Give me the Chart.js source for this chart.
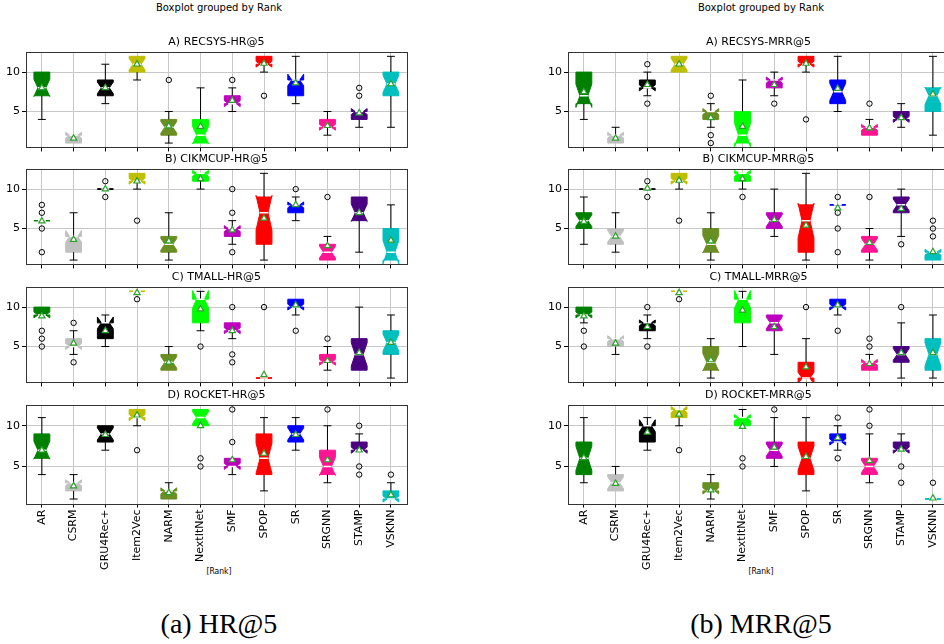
<!DOCTYPE html>
<html>
<head>
<meta charset="utf-8">
<script src="https://cdn.jsdelivr.net/npm/chart.js@4"></script>
<style>
  body { margin: 0; background: #fff; overflow: hidden; width: 944px; height: 644px; position: relative; font-family: 'DejaVu Sans', sans-serif; }
  canvas { position: absolute; }
  .txt { position: absolute; text-align: center; color: #000; white-space: nowrap; }
  .head { font-size: 10px; line-height: 12px; top: 2px; width: 300px; }
  .xlab { font-family: 'DejaVu Sans Condensed', 'DejaVu Sans', sans-serif; font-size: 8.5px; line-height: 12px; top: 565px; width: 100px; }
  .cap { font-family: 'Liberation Serif', serif; font-size: 28px; line-height: 32px; top: 608px; width: 300px; }
</style>
</head>
<body>
<div class="txt head" style="left:69px">Boxplot grouped by Rank</div>
<div class="txt head" style="left:611px">Boxplot grouped by Rank</div>
<div class="txt xlab" style="left:169px">[Rank]</div>
<div class="txt xlab" style="left:711px">[Rank]</div>
<div class="txt cap" style="left:69px">(a) HR@5</div>
<div class="txt cap" style="left:611px">(b) MRR@5</div>

<script>
const categories = ['AR', 'CSRM', 'GRU4Rec+', 'Item2Vec', 'NARM', 'NextItNet', 'SMF', 'SPOP', 'SR', 'SRGNN', 'STAMP', 'VSKNN'];
const boxColors = ['#008000', '#c0c0c0', '#000000', '#bfbf00', '#6b8e23', '#00ff00', '#bf00bf', '#ff0000', '#0000ff', '#ff1493', '#4b0082', '#00bfbf'];
const yTicks = [5, 10];

// each row: whisker low, q1, notch low, median, notch high, q3, whisker high
const hrRecsys = [
  [4, 7, 6.9, 8, 9.1, 10, 10],
  [1, 1, 1.63, 2, 2.37, 2, 2],
  [6, 7, 7.26, 8, 8.74, 9, 11],
  [9, 10, 10.26, 11, 11.74, 12, 12],
  [1, 2, 2.26, 3, 3.74, 4, 5],
  [1, 1, 0.9, 2, 3.1, 4, 8],
  [5, 6, 5.63, 6, 6.37, 7, 8],
  [10, 11, 10.63, 11, 11.37, 12, 12],
  [6, 7, 8.26, 9, 9.74, 9, 12],
  [2, 3, 2.63, 3, 3.37, 4, 5],
  [3, 4, 4.63, 5, 5.37, 5, 5],
  [3, 7, 7.4, 8.5, 9.6, 10, 12]
];
const hrRecsysMean = [8.0, 1.6, 8.0, 11.0, 3.15, 3.1, 6.4, 11.1, 8.6, 3.2, 4.8, 8.5];
const hrRecsysOut = [[], [], [], [], [9], [], [9], [7], [], [], [7, 8], []];

const hrCikm = [
  [6, 6, 6, 6, 6, 6, 6],
  [1, 2, 3.26, 4, 4.74, 4, 7],
  [10, 10, 10, 10, 10, 10, 10],
  [10, 11, 10.63, 11, 11.37, 12, 12],
  [1, 2, 2.26, 3, 3.74, 4, 7],
  [10, 11, 11.63, 12, 12.37, 12, 12],
  [3, 4, 4.63, 5, 5.37, 5, 6],
  [1, 3, 4.8, 7, 9.2, 9, 12],
  [6, 7, 7.63, 8, 8.37, 8, 9],
  [1, 1, 1.26, 2, 2.74, 3, 4],
  [2, 6, 5.9, 7, 8.1, 9, 9],
  [1, 1, 0.52, 2, 3.48, 5, 8]
];
const hrCikmMean = [5.95, 3.6, 10.0, 11.0, 3.4, 11.3, 4.8, 6.3, 8.0, 2.8, 7.0, 3.5];
const hrCikmOut = [[2, 5, 7, 8], [], [9, 11], [6], [], [], [2, 7, 10], [], [10], [9], [], []];

const hrTmall = [
  [9, 9, 8.63, 9, 9.37, 10, 10],
  [4, 5, 4.63, 5, 5.37, 6, 7],
  [5, 6, 7.26, 8, 8.74, 8, 9],
  [12, 12, 12, 12, 12, 12, 12],
  [2, 2, 2.26, 3, 3.74, 4, 5],
  [7, 8, 9.9, 11, 12.1, 11, 12],
  [6, 7, 6.63, 7, 7.37, 8, 8],
  [1, 1, 1, 1, 1, 1, 1],
  [9, 10, 9.63, 10, 10.37, 11, 11],
  [2, 3, 2.63, 3, 3.37, 4, 5],
  [2, 2, 2.52, 4, 5.48, 6, 10],
  [1, 4, 4.4, 5.5, 6.6, 7, 9]
];
const hrTmallMean = [8.85, 5.4, 7.0, 11.8, 3.0, 9.75, 7.0, 1.4, 10.25, 3.2, 4.2, 5.5];
const hrTmallOut = [[5, 6, 7], [3, 8], [], [11], [], [5], [3, 4, 10], [10], [7], [6], [], []];

const hrRocket = [
  [4, 6, 5.9, 7, 8.1, 9, 11],
  [1, 2, 2.63, 3, 3.37, 3, 4],
  [7, 8, 8.26, 9, 9.74, 10, 10],
  [10, 11, 10.63, 11, 11.37, 12, 12],
  [1, 1, 1.63, 2, 2.37, 2, 3],
  [10, 10, 10.26, 11, 11.74, 12, 12],
  [4, 5, 4.63, 5, 5.37, 6, 6],
  [2, 4, 4.15, 6, 7.85, 9, 11],
  [7, 8, 8.26, 9, 9.74, 10, 11],
  [3, 4, 3.9, 5, 6.1, 7, 10],
  [7, 7, 6.63, 7, 7.37, 8, 9],
  [1, 1, 0.63, 1, 1.37, 2, 3]
];
const hrRocketMean = [7.0, 2.6, 8.9, 11.3, 1.75, 10.0, 5.8, 6.6, 8.9, 5.8, 7.0, 1.5];
const hrRocketOut = [[], [], [], [7], [], [5, 6], [8, 12], [], [], [12], [4, 5, 10], [4]];

const mrrRecsys = [
  [4, 6, 5.52, 7, 8.48, 10, 10],
  [1, 1, 1.63, 2, 2.37, 2, 3],
  [7, 8, 7.63, 8, 8.37, 9, 10],
  [10, 10, 10.26, 11, 11.74, 12, 12],
  [3, 4, 4.63, 5, 5.37, 5, 6],
  [1, 1, 0.52, 2, 3.48, 5, 9],
  [7, 8, 8.63, 9, 9.37, 9, 10],
  [10, 11, 10.63, 11, 11.37, 12, 12],
  [5, 6, 6.4, 7.5, 8.6, 9, 12],
  [2, 2, 2.63, 3, 3.37, 3, 4],
  [3, 4, 3.63, 4, 4.37, 5, 6],
  [2, 5, 5.9, 7, 8.1, 8, 12]
];
const mrrRecsysMean = [7.5, 1.6, 8.4, 11.0, 4.2, 3.1, 8.4, 11.1, 7.9, 2.9, 4.2, 7.2];
const mrrRecsysOut = [[], [], [6, 11], [], [1, 2, 7], [], [6], [4], [], [6], [], []];

const mrrCikm = [
  [3, 5, 5.26, 6, 6.74, 7, 9],
  [2, 3, 3.26, 4, 4.74, 5, 7],
  [10, 10, 10, 10, 10, 10, 10],
  [10, 11, 10.63, 11, 11.37, 12, 12],
  [1, 2, 1.9, 3, 4.1, 5, 7],
  [10, 11, 11.63, 12, 12.37, 12, 12],
  [4, 5, 5.26, 6, 6.74, 7, 10],
  [1, 2, 3.8, 6, 8.2, 8, 12],
  [8, 8, 8, 8, 8, 8, 8],
  [1, 2, 2.26, 3, 3.74, 4, 5],
  [4, 7, 7.26, 8, 8.74, 9, 10],
  [1, 1, 1.63, 2, 2.37, 2, 2]
];
const mrrCikmMean = [5.9, 4.0, 10.1, 11.1, 3.4, 11.3, 6.1, 5.4, 7.6, 3.2, 7.5, 2.05];
const mrrCikmOut = [[], [], [9, 11], [6], [], [9], [], [], [2, 5, 7, 9], [9], [3], [4, 5, 6]];

const mrrTmall = [
  [8, 9, 8.63, 9, 9.37, 10, 10],
  [4, 5, 5.63, 6, 6.37, 6, 6],
  [6, 7, 7.63, 8, 8.37, 8, 9],
  [12, 12, 12, 12, 12, 12, 12],
  [1, 2, 1.9, 3, 4.1, 5, 6],
  [5, 8, 9.9, 11, 12.1, 11, 12],
  [4, 7, 7.26, 8, 8.74, 9, 9],
  [1, 1, 0.26, 1, 1.74, 3, 6],
  [9, 10, 9.63, 10, 10.37, 11, 11],
  [2, 2, 2.63, 3, 3.37, 3, 4],
  [1, 3, 3.26, 4, 4.74, 5, 8],
  [1, 2, 2.52, 4, 5.48, 6, 9]
];
const mrrTmallMean = [8.85, 5.4, 7.5, 11.8, 3.3, 9.6, 7.5, 2.4, 10.25, 2.8, 4.2, 4.2];
const mrrTmallOut = [[5, 7], [], [5, 10], [11], [], [], [], [10], [7], [5, 6], [10], []];

const mrrRocket = [
  [3, 4, 4.52, 6, 7.48, 8, 11],
  [2, 2, 2.26, 3, 3.74, 4, 5],
  [7, 8, 9.26, 10, 10.74, 10, 11],
  [10, 11, 11.63, 12, 12.37, 12, 12],
  [1, 2, 1.63, 2, 2.37, 3, 4],
  [10, 10, 10.63, 11, 11.37, 11, 12],
  [5, 6, 6.26, 7, 7.74, 8, 11],
  [2, 4, 4.52, 6, 7.48, 8, 11],
  [7, 8, 7.63, 8, 8.37, 9, 10],
  [3, 4, 4.26, 5, 5.74, 6, 9],
  [7, 7, 6.63, 7, 7.37, 8, 9],
  [1, 1, 1, 1, 1, 1, 1]
];
const mrrRocketMean = [6.05, 2.9, 9.2, 11.4, 2.1, 9.9, 7.35, 6.2, 8.5, 5.7, 7.1, 1.1];
const mrrRocketOut = [[], [], [], [7], [], [5, 6], [12], [], [6, 11], [10, 12], [3, 5], [3]];

Chart.defaults.font.family = "'DejaVu Sans', sans-serif";
Chart.defaults.color = '#000';

const panels = [
  { title: 'A) RECSYS-HR@5', stats: hrRecsys, means: hrRecsysMean, out: hrRecsysOut, left: 0, top: 32, last: false },
  { title: 'B) CIKMCUP-HR@5', stats: hrCikm, means: hrCikmMean, out: hrCikmOut, left: 0, top: 149, last: false },
  { title: 'C) TMALL-HR@5', stats: hrTmall, means: hrTmallMean, out: hrTmallOut, left: 0, top: 267, last: false },
  { title: 'D) ROCKET-HR@5', stats: hrRocket, means: hrRocketMean, out: hrRocketOut, left: 0, top: 385, last: true },
  { title: 'A) RECSYS-MRR@5', stats: mrrRecsys, means: mrrRecsysMean, out: mrrRecsysOut, left: 542, top: 32, last: false },
  { title: 'B) CIKMCUP-MRR@5', stats: mrrCikm, means: mrrCikmMean, out: mrrCikmOut, left: 542, top: 149, last: false },
  { title: 'C) TMALL-MRR@5', stats: mrrTmall, means: mrrTmallMean, out: mrrTmallOut, left: 542, top: 267, last: false },
  { title: 'D) ROCKET-MRR@5', stats: mrrRocket, means: mrrRocketMean, out: mrrRocketOut, left: 542, top: 385, last: true }
];

// notched boxes, whiskers, caps and medians drawn with the chart's scales
function boxPlugin(stats) {
  return {
    id: 'boxes',
    beforeDatasetsDraw(chart) {
      const { ctx, chartArea: a, scales: { x, y } } = chart;
      const unit = x.getPixelForValue(1) - x.getPixelForValue(0);
      const bw = unit * 0.25, nw = unit * 0.125;
      const py = v => y.getPixelForValue(v);
      ctx.save();
      ctx.beginPath();
      ctx.rect(a.left, a.top, a.width, a.height);
      ctx.clip();
      stats.forEach((s, i) => {
        const [lo, q1, cilo, med, cihi, q3, hi] = s;
        const cx = x.getPixelForValue(i);
        const pts = [[-bw, q1], [bw, q1], [bw, cilo], [nw, med], [bw, cihi], [bw, q3],
                     [-bw, q3], [-bw, cihi], [-nw, med], [-bw, cilo]];
        ctx.beginPath();
        pts.forEach(([dx, v], k) => k ? ctx.lineTo(cx + dx, py(v)) : ctx.moveTo(cx + dx, py(v)));
        ctx.closePath();
        ctx.fillStyle = boxColors[i];
        ctx.strokeStyle = boxColors[i];
        ctx.lineWidth = 1;
        ctx.fill();
        ctx.stroke();

        ctx.strokeStyle = '#000';
        ctx.beginPath();
        if (lo < q1) {
          ctx.moveTo(cx, py(q1)); ctx.lineTo(cx, py(lo));
          ctx.moveTo(cx - nw, py(lo)); ctx.lineTo(cx + nw, py(lo));
        }
        if (hi > q3) {
          ctx.moveTo(cx, py(q3)); ctx.lineTo(cx, py(hi));
          ctx.moveTo(cx - nw, py(hi)); ctx.lineTo(cx + nw, py(hi));
        }
        ctx.stroke();

        ctx.strokeStyle = '#fff';
        ctx.lineWidth = 1.5;
        ctx.beginPath();
        ctx.moveTo(cx - nw, py(med)); ctx.lineTo(cx + nw, py(med));
        ctx.stroke();
      });
      ctx.restore();
    },
    afterDraw(chart) {
      const { ctx, chartArea: a } = chart;
      ctx.save();
      ctx.strokeStyle = '#333';
      ctx.lineWidth = 1;
      ctx.strokeRect(Math.round(a.left) + 0.5, Math.round(a.top) + 0.5, Math.round(a.width), Math.round(a.height));
      ctx.restore();
    }
  };
}

panels.forEach(p => {
  const xh = p.last ? 80.5 : 5.5;
  const cv = document.createElement('canvas');
  cv.width = 412;
  cv.height = p.last ? 199 : 124;
  cv.style.left = p.left + 'px';
  cv.style.top = p.top + 'px';
  cv.style.width = cv.width + 'px';
  cv.style.height = cv.height + 'px';
  document.body.appendChild(cv);

  const fliers = [];
  p.out.forEach((vals, i) => vals.forEach(v => fliers.push({ x: categories[i], y: v })));

  new Chart(cv, {
    type: 'line',
    data: {
      labels: categories,
      datasets: [
        {
          type: 'line', data: p.means, showLine: false, order: 1,
          pointStyle: 'triangle', pointRadius: 3.6, pointBackgroundColor: '#fff',
          pointBorderColor: '#2ca02c', pointBorderWidth: 1.2
        },
        {
          type: 'scatter', data: fliers, order: 2,
          pointStyle: 'circle', pointRadius: 2.7, pointBackgroundColor: 'rgba(0,0,0,0)',
          pointBorderColor: '#000', pointBorderWidth: 1
        }
      ]
    },
    options: {
      responsive: false,
      animation: false,
      events: [],
      devicePixelRatio: 1,
      layout: { padding: 0 },
      plugins: {
        legend: { display: false },
        tooltip: { enabled: false },
        title: {
          display: true, text: p.title, fullSize: false,
          font: { size: 11, weight: 'normal' }, color: '#000',
          padding: { top: 4, bottom: 2.8 }
        }
      },
      scales: {
        x: {
          type: 'category', offset: true,
          grid: { offset: false, color: '#c8c8c8', tickColor: '#000', tickLength: 4 },
          border: { display: false },
          ticks: { display: p.last, autoSkip: false, minRotation: 90, maxRotation: 90, font: { size: 11 }, color: '#000', padding: 2 },
          afterFit: s => { s.height = xh; }
        },
        y: {
          min: 0.45, max: 12.55,
          grid: { color: '#c8c8c8', tickColor: '#000', tickLength: 4 },
          border: { display: false },
          ticks: { font: { size: 11 }, color: '#000', padding: 2 },
          afterBuildTicks: s => { s.ticks = yTicks.map(v => ({ value: v })); },
          afterFit: s => { s.width = 26; }
        }
      }
    },
    plugins: [boxPlugin(p.stats)]
  });
});
</script>
</body>
</html>
